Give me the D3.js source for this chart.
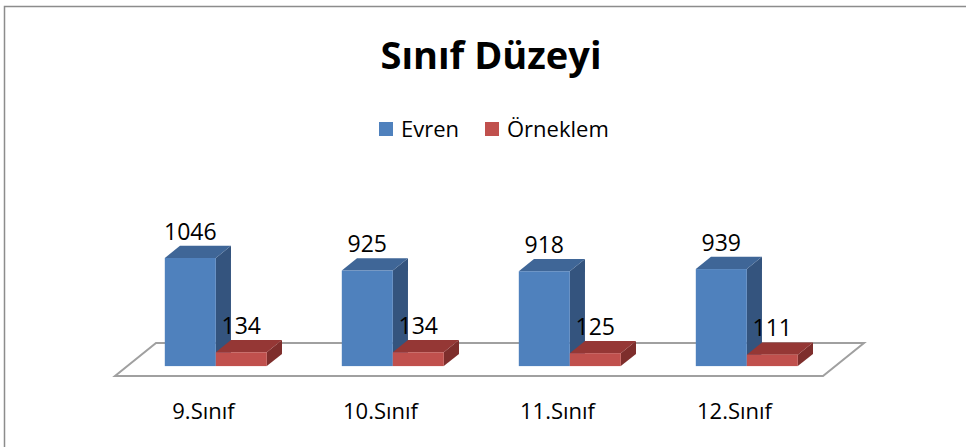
<!DOCTYPE html>
<html>
<head>
<meta charset="utf-8">
<script src="https://cdn.jsdelivr.net/npm/d3@7"></script>
<style>
  body { margin: 0; background: #fff; }
  text { font-family: "Open Sans", "Noto Sans", sans-serif; fill: #000; }
</style>
</head>
<body>
<div id="chart"></div>
<script>
// data
var categories = ["9.Sınıf", "10.Sınıf", "11.Sınıf", "12.Sınıf"];
var seriesNames = ["Evren", "Örneklem"];
var evren = [1046, 925, 918, 939];
var orneklem = [134, 134, 125, 111];

var width = 966, height = 447;
var colors = {
    Evren: { front: "#4f81bd", top: "#3f6697", side: "#34547e" },
    "Örneklem": { front: "#c0504d", top: "#953735", side: "#7e2e2c" }
};

// floor geometry (front edge + depth vector)
var floorFront = 376, floorLeft = 115, floorRight = 823,
    depthX = 41, depthY = -33,
    barFront = 0.3, barBack = 0.67,
    barW = 51;

var svg = d3.select("#chart").append("svg")
    .attr("width", width)
    .attr("height", height);

// outer border
svg.append("rect")
    .attr("x", 4.5).attr("y", 6.5)
    .attr("width", width + 10).attr("height", height + 10)
    .attr("fill", "none").attr("stroke", "#8c8c8c").attr("stroke-width", 1.5);

svg.append("text")
    .attr("x", 491).attr("y", 69)
    .attr("text-anchor", "middle")
    .style("font-size", "38px").style("font-weight", "bold")
    .text("Sınıf Düzeyi");

// legend
var legendX = [379, 485];
var lg = svg.selectAll(".legend").data(seriesNames).enter().append("g")
    .attr("class", "legend")
    .attr("transform", function(d, i) { return "translate(" + legendX[i] + ",122)"; });
lg.append("rect").attr("width", 14).attr("height", 14)
    .attr("fill", function(d) { return colors[d].front; });
lg.append("text").attr("x", 22).attr("y", 15)
    .style("font-size", "22px")
    .text(function(d) { return d; });

var x = d3.scaleBand().domain(categories).range([floorLeft, floorRight]);
var baseY = floorFront + depthY * barFront;
var y = d3.scaleLinear().domain([0, 1200]).range([0, 124]);

// floor
var fp = [[floorLeft, floorFront], [floorRight, floorFront],
          [floorRight + depthX, floorFront + depthY], [floorLeft + depthX, floorFront + depthY]];
svg.append("polygon")
    .attr("points", fp.map(function(p) { return p.join(","); }).join(" "))
    .attr("fill", "#fff").attr("stroke", "#a0a0a0").attr("stroke-width", 2);

var bars = [];
categories.forEach(function(c, i) {
    var x0 = x(c) + x.bandwidth() / 2 - barW + depthX * barFront;
    bars.push({ cat: c, s: "Evren", v: evren[i], x0: x0 });
    bars.push({ cat: c, s: "Örneklem", v: orneklem[i], x0: x0 + barW });
});

var dx = depthX * (barBack - barFront), dy = depthY * (barBack - barFront);

var g = svg.selectAll(".bar").data(bars).enter().append("g").attr("class", "bar");
g.append("polygon") // side
    .attr("fill", function(d) { return colors[d.s].side; })
    .attr("points", function(d) {
        var x1 = d.x0 + barW, t = baseY - y(d.v);
        return [[x1, baseY], [x1 + dx, baseY + dy], [x1 + dx, t + dy], [x1, t]].join(" ");
    });
g.append("polygon") // top
    .attr("fill", function(d) { return colors[d.s].top; })
    .attr("points", function(d) {
        var t = baseY - y(d.v);
        return [[d.x0, t], [d.x0 + barW, t], [d.x0 + barW + dx, t + dy], [d.x0 + dx, t + dy]].join(" ");
    });
g.append("rect") // front
    .attr("fill", function(d) { return colors[d.s].front; })
    .attr("x", function(d) { return d.x0; })
    .attr("y", function(d) { return baseY - y(d.v); })
    .attr("width", barW)
    .attr("height", function(d) { return y(d.v); });
g.append("text")
    .attr("x", function(d) { return d.x0 + barW / 2; })
    .attr("y", function(d) { return baseY - y(d.v) + dy - 6; })
    .attr("text-anchor", "middle")
    .style("font-size", "23px")
    .text(function(d) { return d.v; });

// category labels
svg.selectAll(".cat").data(categories).enter().append("text")
    .attr("class", "cat")
    .attr("x", function(d) { return x(d) + x.bandwidth() / 2; })
    .attr("y", 419)
    .attr("text-anchor", "middle")
    .style("font-size", "22px")
    .text(function(d) { return d; });
</script>
</body>
</html>
